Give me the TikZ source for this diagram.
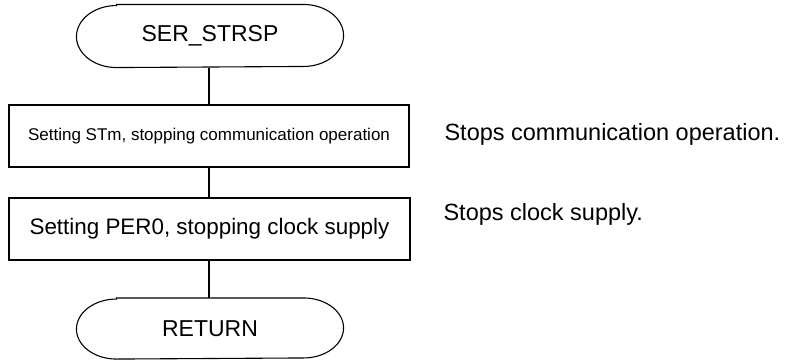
\documentclass[tikz,border=0pt]{standalone}
\usepackage{fontspec}
\setmainfont{Liberation Sans}
\begin{document}
\begin{tikzpicture}[x=1pt,y=1pt,line width=1.1pt,
  procbox/.style={draw,minimum width=400pt,minimum height=62pt,inner sep=0pt},
  termtext/.style={font=\fontsize{23}{27}\selectfont,inner sep=0pt},
  note/.style={anchor=base west,inner sep=0pt,font=\fontsize{23.5}{28}\selectfont}]
\useasboundingbox (0,0) rectangle (788,-360);
% terminals
\node[termtext,minimum width=266pt,minimum height=62pt] (start) at (210,-36) {SER\_STRSP};
\draw ([xshift=40pt]start.north west) -- ([xshift=-40pt]start.north east)
  arc[start angle=90,end angle=-90,x radius=40pt,y radius=31pt]
  -- ([xshift=40pt]start.south west)
  arc[start angle=270,end angle=90,x radius=40pt,y radius=31pt] -- cycle;
\node[procbox,font=\fontsize{17}{20}\selectfont] (b1) at (209,-136) {Setting STm, stopping communication operation};
\node[procbox,font=\fontsize{22.4}{26}\selectfont,minimum width=401pt] (b2) at (209.5,-229) {Setting PER0, stopping clock supply};
\node[termtext,minimum width=266pt,minimum height=60pt] (ret) at (210,-328.5) {RETURN};
\draw ([xshift=40pt]ret.north west) -- ([xshift=-40pt]ret.north east)
  arc[start angle=90,end angle=-90,x radius=40pt,y radius=30pt]
  -- ([xshift=40pt]ret.south west)
  arc[start angle=270,end angle=90,x radius=40pt,y radius=30pt] -- cycle;
% connectors
\draw (start.south -| b1.north) -- (b1.north);
\draw (b1.south) -- (b1.south |- b2.north);
\draw (b2.south -| b1.south) -- (b1.south |- ret.north);
% notes
\node[note] (n1) at (444,-140) {Stops communication operation.};
\node[note] (n2) at (443,-220) {Stops clock supply.};
\end{tikzpicture}
\end{document}
